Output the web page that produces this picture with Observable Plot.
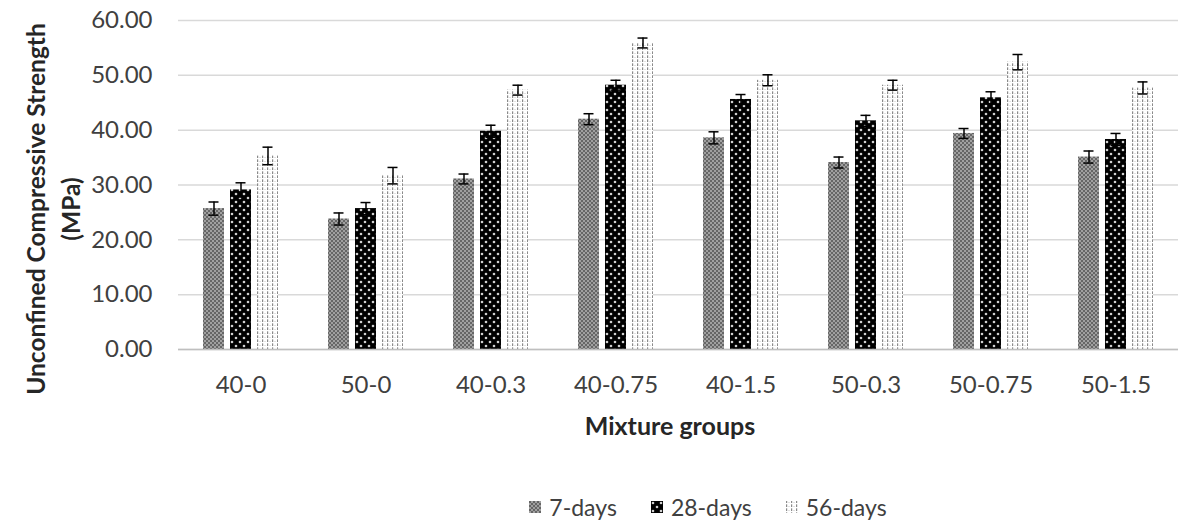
<!DOCTYPE html>
<html><head><meta charset="utf-8">
<script src="https://cdn.jsdelivr.net/npm/d3@7"></script>
<script src="https://cdn.jsdelivr.net/npm/@observablehq/plot@0.6"></script>
<style>
body{margin:0;background:#fff;font-family:Lato,"Open Sans",sans-serif;}
#wrap{position:relative;width:1194px;height:523px;overflow:hidden;background:#fff;}
#chart{position:absolute;left:0;top:0;}
.ytitle{position:absolute;left:53px;top:209px;transform:translate(-50%,-50%) rotate(-90deg);white-space:nowrap;text-align:center;font-weight:bold;font-size:24.5px;line-height:35px;color:#262626;}
.xtitle{position:absolute;left:670px;top:425px;transform:translate(-50%,-50%);font-weight:bold;font-size:25px;color:#262626;white-space:nowrap;}
#legend{position:absolute;left:0;width:1194px;top:493px;display:flex;justify-content:center;gap:34px;font-size:23px;color:#404040;padding-left:222px;box-sizing:border-box;}
#legend span{display:flex;align-items:center;gap:8px;}
</style></head><body>
<svg width="0" height="0" style="position:absolute">
<defs>
<pattern id="p7" width="4" height="4" patternUnits="userSpaceOnUse">
<rect width="4" height="4" fill="#a0a0a0"/>
<rect x="0" y="0" width="2" height="2" fill="#666"/>
<rect x="2" y="2" width="2" height="2" fill="#666"/>
</pattern>
<pattern id="p28" width="8" height="8" patternUnits="userSpaceOnUse">
<rect width="8" height="8" fill="#000"/>
<circle cx="2" cy="2" r="1.3" fill="#d0d0d0"/>
<circle cx="6" cy="6" r="1.3" fill="#d0d0d0"/>
</pattern>
<pattern id="p56" width="5" height="4" patternUnits="userSpaceOnUse">
<rect width="5" height="4" fill="#fff"/>
<rect x="0" y="0" width="1.2" height="2" fill="#8a8a8a"/>
<rect x="0" y="3" width="1.2" height="1" fill="#b0b0b0"/>
<rect x="2.5" y="1" width="1" height="1" fill="#c8c8c8"/>
</pattern>
</defs>
</svg>
<div id="wrap"><div id="chart"></div>
<div class="ytitle">Unconfined Compressive Strength<br>(MPa)</div>
<div class="xtitle">Mixture groups</div>
<div id="legend"></div>
</div>
<script>
const groups = ["40-0","50-0","40-0.3","40-0.75","40-1.5","50-0.3","50-0.75","50-1.5"];
const seriesNames = ["7-days","28-days","56-days"];
const days7 = [25.7,23.8,31.1,42.0,38.6,34.1,39.4,35.1];
const days28 = [29.1,25.7,39.8,48.2,45.6,41.7,45.9,38.3];
const days56 = [35.3,31.7,47.3,55.9,49.1,48.2,52.4,47.7];
const err7 = [1.2,1.1,0.9,1.0,1.1,1.0,0.9,1.1];
const err28 = [1.3,1.1,1.1,0.9,0.9,1.0,1.1,1.1];
const err56 = [1.6,1.5,0.9,0.9,1.0,0.9,1.4,1.1];
const yTicks = [0,10,20,30,40,50,60];
const patternIds = ["url(#p7)","url(#p28)","url(#p56)"];

const values = [days7, days28, days56];
const errs = [err7, err28, err56];
const data = [];
groups.forEach((g, i) => {
  seriesNames.forEach((s, j) => {
    data.push({group: g, series: s, value: values[j][i], err: errs[j][i]});
  });
});

const chart = Plot.plot({
  width: 1194,
  height: 470,
  marginLeft: 176,
  marginRight: 14,
  marginTop: 20,
  marginBottom: 121,
  style: {fontFamily: "Lato, 'Open Sans', sans-serif", fontSize: "24px", color: "#404040", background: "#fff"},
  fx: {domain: groups, padding: 0, label: null},
  x: {domain: seriesNames, paddingInner: 0.21, paddingOuter: 0.84, axis: null},
  y: {domain: [0, 60], ticks: yTicks, label: null},
  color: {domain: seriesNames, range: patternIds},
  marks: [
    Plot.gridY(yTicks, {stroke: "#d9d9d9", strokeOpacity: 1, strokeWidth: 1.5}),
    Plot.axisY({ticks: yTicks, tickSize: 0, tickPadding: 26, tickFormat: d => d.toFixed(2), fontSize: 24, fill: "#404040", label: null}),
    Plot.axisFx({anchor: "bottom", tickSize: 0, tickPadding: 26, fontSize: 24, fill: "#404040", label: null}),
    Plot.barY(data, {fx: "group", x: "series", y: "value", fill: "series"}),
    Plot.ruleX(data, {fx: "group", x: "series", y1: d => d.value - d.err, y2: d => d.value + d.err, stroke: "#000", strokeWidth: 1.5}),
    Plot.tickY(data, {fx: "group", x: "series", y: d => d.value + d.err, stroke: "#000", strokeWidth: 1.5, insetLeft: 5.5, insetRight: 5.5}),
    Plot.tickY(data, {fx: "group", x: "series", y: d => d.value - d.err, stroke: "#000", strokeWidth: 1.5, insetLeft: 5.5, insetRight: 5.5}),
    Plot.ruleY([0], {stroke: "#bfbfbf", strokeWidth: 1.5})
  ]
});
document.getElementById("chart").appendChild(chart);

const legend = document.getElementById("legend");
seriesNames.forEach((s, j) => {
  const item = document.createElement("span");
  item.innerHTML = `<svg width="12" height="12"><rect width="12" height="12" fill="${patternIds[j]}"/></svg>${s}`;
  legend.appendChild(item);
});
</script>
</body></html>
